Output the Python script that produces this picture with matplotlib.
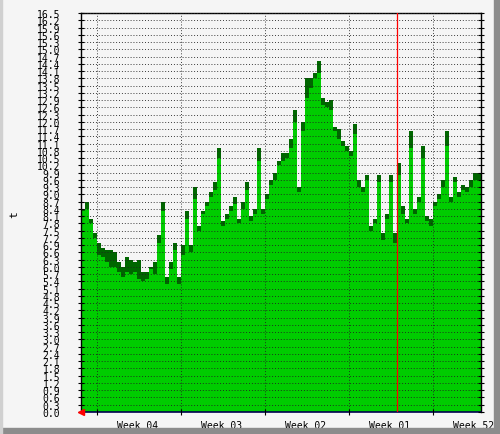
import numpy as np
import matplotlib
matplotlib.use("Agg")
import matplotlib.pyplot as plt
import matplotlib.ticker as ticker
from matplotlib.patches import Rectangle

# ── data (one sample every 8 h, 100 samples over ~33 days) ────────────────────
avg_vals = [8.3, 8.4, 7.8, 7.2, 6.5, 6.4, 6.2, 6.0, 6.0, 5.8,
            5.6, 5.8, 5.7, 5.8, 5.5, 5.4, 5.5, 5.9, 5.7, 7.0,
            8.3, 5.3, 5.9, 6.7, 5.3, 6.5, 8.0, 6.6, 8.8, 7.5,
            8.2, 8.5, 8.9, 9.2, 10.5, 7.7, 8.0, 8.3, 8.6, 7.8,
            8.4, 9.2, 7.9, 8.2, 10.4, 8.2, 8.8, 9.4, 9.6, 10.2,
            10.4, 10.5, 10.9, 12.0, 9.1, 11.6, 13.0, 13.4, 13.8, 14.0,
            12.7, 12.6, 12.5, 11.6, 11.3, 11.0, 10.8, 10.6, 11.5, 9.3,
            9.1, 9.6, 7.5, 7.8, 9.5, 7.1, 8.0, 9.5, 7.0, 9.8,
            8.2, 7.8, 10.9, 8.2, 8.7, 10.5, 7.9, 7.7, 8.5, 8.8,
            9.3, 11.0, 8.7, 9.5, 8.9, 9.2, 9.1, 9.3, 9.6, 9.6]
max_vals = [8.4, 8.7, 8.0, 7.4, 7.0, 6.8, 6.7, 6.7, 6.6, 6.2,
            6.0, 6.4, 6.3, 6.2, 6.3, 5.8, 5.8, 6.0, 6.2, 7.3,
            8.7, 5.6, 6.2, 7.0, 5.6, 6.9, 8.3, 6.9, 9.3, 7.7,
            8.3, 8.7, 9.1, 9.5, 10.9, 7.9, 8.2, 8.5, 8.9, 8.0,
            8.7, 9.5, 8.1, 8.4, 10.9, 8.4, 9.0, 9.6, 9.9, 10.4,
            10.7, 10.7, 11.3, 12.5, 9.3, 12.0, 13.8, 13.8, 14.0, 14.5,
            13.0, 12.8, 12.9, 11.8, 11.7, 11.2, 11.0, 10.8, 11.9, 9.6,
            9.3, 9.8, 7.7, 8.0, 9.8, 7.4, 8.2, 9.8, 7.4, 10.3,
            8.5, 8.0, 11.6, 8.4, 8.9, 11.0, 8.1, 8.0, 8.7, 9.0,
            9.6, 11.6, 8.9, 9.7, 9.1, 9.4, 9.3, 9.6, 9.9, 9.9]

span_days   = 100 / 3                       # samples every 8 hours
week_starts = [4 / 3 + 7 * k for k in range(5)]
week_labels = ["Week 04", "Week 03", "Week 02", "Week 01", "Week 52"]
now_day     = 26 + 1 / 3                    # red "now" marker
yticks      = np.round(np.arange(0, 16.51, 0.3), 1)

# ── style ─────────────────────────────────────────────────────────────────────
BG     = "#F5F5F5"
BRIGHT = "#00CC00"
DARK   = "#006600"
MONO   = "DejaVu Sans Mono"

fig = plt.figure(figsize=(5.0, 4.35), dpi=100, facecolor=BG)

# 3d-ish frame around the canvas
fig.patches.append(Rectangle((0, 0), 1, 6 / 435, transform=fig.transFigure,
                             color="#8C8C8C", zorder=0))
fig.patches.append(Rectangle((494 / 500, 0), 6 / 500, 1, transform=fig.transFigure,
                             color="#8C8C8C", zorder=0))
fig.patches.append(Rectangle((0, 0), 2 / 500, 1, transform=fig.transFigure,
                             color="#D0D0D0", zorder=0))

ax = fig.add_axes([81 / 500, 22 / 435, 400 / 500, 399 / 435])
ax.set_facecolor(BG)

edges = np.linspace(0, span_days, len(avg_vals) + 1)
ax.stairs(max_vals, edges, fill=True, color=DARK, baseline=0, zorder=1)
ax.stairs(avg_vals, edges, fill=True, color=BRIGHT, baseline=0, zorder=2)

ax.axvline(now_day, color="#FF0000", linewidth=0.9, zorder=4)

ax.set_xlim(0, span_days)
ax.set_ylim(0, 16.5)

# grid on top of the areas
ax.set_axisbelow(False)
ax.set_yticks(yticks)
ax.set_yticklabels([f"{v:.1f}" for v in yticks], fontfamily=MONO, fontsize=7)
ax.set_xticks(week_starts)
ax.set_xticklabels([])
ax.xaxis.set_minor_locator(ticker.FixedLocator([w + 3.4 for w in week_starts]))
ax.xaxis.set_minor_formatter(ticker.FixedFormatter(week_labels))
ax.grid(True, which="major", color="#202020", linestyle=(0, (1, 2.2)),
        linewidth=0.65, zorder=3)

ax.tick_params(axis="y", which="major", direction="inout", length=4, width=0.8,
               left=True, right=True, pad=13)
ax.tick_params(axis="x", which="major", direction="inout", length=5, width=0.8,
               bottom=True, top=False)
ax.tick_params(axis="x", which="minor", length=0, pad=6)
for lab in ax.get_xticklabels(minor=True):
    lab.set_fontfamily(MONO)
    lab.set_fontsize(7)

for side in ("left", "right", "top"):
    ax.spines[side].set_color("#000000")
    ax.spines[side].set_linewidth(1.0)
ax.spines["bottom"].set_color("#000050")
ax.spines["bottom"].set_linewidth(1.2)

# red arrow at the origin
ax.plot([0], [0], marker="<", color="#FF0000", markersize=4, clip_on=False, zorder=5)

fig.text(14 / 500, 1 - 215 / 435, "t", rotation=90, ha="center", va="center",
         fontfamily=MONO, fontsize=8)

fig.savefig("out.png", dpi=100, facecolor=BG)
